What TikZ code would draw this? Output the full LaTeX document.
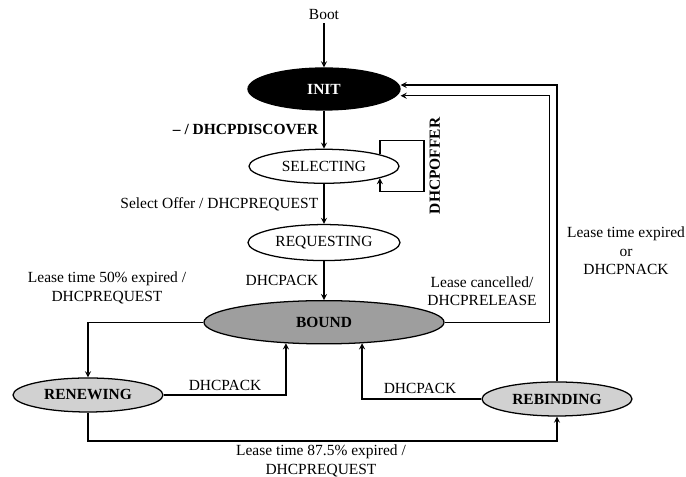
\documentclass[tikz,border=0pt]{standalone}
\usepackage{fontspec}
\setmainfont{Liberation Serif}
\usetikzlibrary{positioning,shapes.geometric}
\AtBeginDocument{\fontsize{11}{13}\selectfont}

\begin{document}
\begin{tikzpicture}[
    x=0.025cm, y=0.025cm,
    state/.style={ellipse, draw, line width=0.9pt, inner sep=0pt,
                  minimum width=3.75cm, minimum height=0.85cm},
    arrow/.style={->, line width=0.9pt, >=stealth},
    msg/.style={align=center, inner sep=2pt}
]
\useasboundingbox (0,0) rectangle (686,477);

% States (main column)
\node[state, fill=black, text=white, font=\bfseries, minimum width=3.8cm,
      minimum height=1.05cm] (init) at (324,388) {INIT};
\node[state, below=0.95cm of init] (sel) {SELECTING};
\node[state, below=1.0cm of sel, minimum width=3.8cm, minimum height=0.9cm] (req) {REQUESTING};
\node[state, below=0.97cm of req, fill=black!38, font=\bfseries,
      minimum width=6cm, minimum height=1.08cm] (bound) {BOUND};

% States (lower row)
\node[state, fill=black!18, font=\bfseries] (renew) at (88,82) {RENEWING};
\node[state, fill=black!18, font=\bfseries] (rebind) at (557,78) {REBINDING};

% Start
\node[msg] (boot) at (324,462) {Boot};
\draw[arrow] (boot) -- (init);

% Main flow
\draw[arrow] (init) -- (sel) node[midway, left, font=\bfseries] {-- / DHCPDISCOVER};
\draw[arrow] (sel.12) -- ++(0,14) -- ++(44,0) -- ++(0,-51)
    node[midway, rotate=90, anchor=north, font=\bfseries] (offer) {DHCPOFFER}
    -| (sel.-12);
\draw[arrow] (sel) -- (req) node[midway, left] {Select Offer / DHCPREQUEST};
\draw[arrow] (req) -- (bound) node[midway, left] {DHCPACK};

% Renewing and rebinding
\draw[arrow] (bound.west) -| (renew.north);
\node[msg] (half) at (107,189) {Lease time 50\% expired /\\DHCPREQUEST};

\draw[arrow] (renew.east) -| (bound.209);
\node[msg] (ackrenew) at (225,92) {DHCPACK};

\draw[arrow] (rebind.west) -| (bound.331);
\node[msg] (ackrebind) at (420,89) {DHCPACK};

\draw[arrow] (renew.south) -- ++(0,-28.5) -| (rebind.south);
\node[msg] (late) at (321,16) {Lease time 87.5\% expired /\\DHCPREQUEST};

% Back to INIT
\draw[arrow] (bound.east) -- ++(105,0) |- ([yshift=-0.17cm]init.east);
\node[msg] (cancel) at (482,186) {Lease cancelled/\\DHCPRELEASE};

\draw[arrow] (rebind.north) |- ([yshift=0.1cm]init.east);
\node[msg] (expired) at (626,226) {Lease time expired\\or\\DHCPNACK};

\end{tikzpicture}
\end{document}
